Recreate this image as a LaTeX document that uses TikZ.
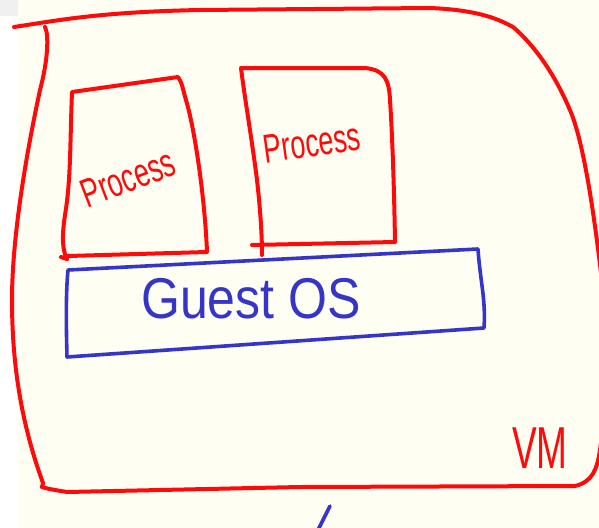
\documentclass[tikz,border=0pt]{standalone}
\usepackage{fontspec}
\setmainfont{Liberation Sans}
\definecolor{pen}{HTML}{FF0A0A}
\definecolor{bpen}{HTML}{3535C8}
\definecolor{paper}{HTML}{FFFEF2}
\definecolor{corner}{HTML}{F0F0F0}
\tikzset{
  redline/.style={draw=pen, line width=4pt, line cap=round, line join=round},
  blueline/.style={draw=bpen, line width=3.6pt, line cap=round, line join=round},
  redtext/.style={text=pen, inner sep=0pt},
  bluetext/.style={text=bpen, inner sep=0pt}
}
\begin{document}
\begin{tikzpicture}[x=1pt,y=-1pt]
\useasboundingbox (0,0) rectangle (599,527);
\fill[white] (0,0) rectangle (599,527);
\fill[paper] (18,0) rectangle (599,527);
\fill[corner] (0,0) rectangle (18,16);
\begin{scope}
\clip (0,0) rectangle (599,527);
% VM outer box
\draw[redline] (14,27) .. controls (60,20) and (100,12) .. (200,10) -- (430,8)
  .. controls (480,10) and (500,20) .. (513,27)
  .. controls (540,50) and (560,85) .. (572,115)
  .. controls (585,150) and (595,220) .. (603,290)
  .. controls (606,360) and (605,420) .. (600,450)
  .. controls (597,470) and (592,482) .. (575,486)
  -- (300,487) -- (67,492) .. controls (55,490) and (48,489) .. (42,487);
\draw[redline] (45,27) .. controls (49,35) and (48,60) .. (40,90)
  .. controls (25,160) and (12,240) .. (12,300)
  .. controls (12,360) and (20,420) .. (43,483) -- (42,487);
% Process box 1
\draw[redline] (64,258) -- (68,256) -- (207,252) .. controls (205,200) and (195,130) .. (186,100)
  .. controls (183,90) and (182,82) .. (178,77) -- (72,92)
  .. controls (70,140) and (71,180) .. (65,215) .. controls (62,235) and (62,250) .. (67,259);
\draw[redline] (67,259) -- (61,257);
% Process box 2
\draw[redline] (252,245) -- (395,242) .. controls (394,180) and (392,130) .. (390,100)
  .. controls (389,80) and (385,70) .. (365,68) -- (241,68)
  .. controls (245,100) and (252,140) .. (257,180) .. controls (261,215) and (262,240) .. (262,255);
% Guest OS box
\draw[blueline] (68,270) -- (478,249) .. controls (480,280) and (486,300) .. (484,328)
  -- (67,357) .. controls (66,320) and (66,290) .. (68,270);
% small blue stroke
\draw[blueline] (330,506) -- (318,530);
\end{scope}
\node[redtext, rotate=21] (p1) at (128,178) {\scalebox{1}[1.5]{\fontsize{27}{27}\selectfont Process}};
\node[redtext, rotate=8] (p2) at (312,143) {\scalebox{1}[1.5]{\fontsize{27}{27}\selectfont Process}};
\node[bluetext] (gos) at (251,299) {\scalebox{1}[1.15]{\fontsize{50}{50}\selectfont Guest OS}};
\node[redtext] (vm) at (540,448) {\scalebox{1}[1.6]{\fontsize{37}{37}\selectfont VM}};
\end{tikzpicture}
\end{document}
